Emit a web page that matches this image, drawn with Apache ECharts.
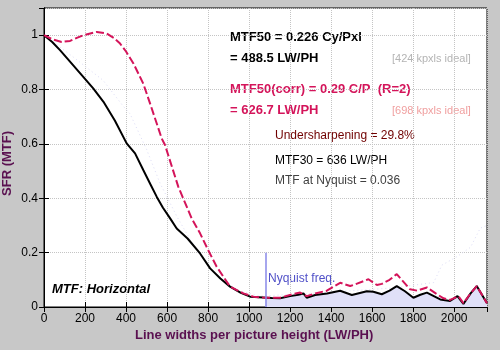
<!DOCTYPE html>
<html>
<head>
<meta charset="utf-8">
<script src="https://cdn.jsdelivr.net/npm/echarts@6/dist/echarts.min.js"></script>
<style>
  html, body { margin: 0; padding: 0; background: #c8c8c8; }
  #chart { width: 500px; height: 350px; }
</style>
</head>
<body>
<div id="chart"></div>
<script>
// measured MTF (black)
const mtfFreq = [0, 40, 78, 130, 184, 240, 290, 346, 403, 444, 484, 520, 550, 580, 615, 647, 700, 761, 810, 860, 907, 960, 1005, 1068, 1110, 1151, 1200, 1240, 1265, 1281, 1322, 1380, 1444, 1501, 1574, 1606, 1647, 1685, 1720, 1760, 1801, 1835, 1867, 1932, 1980, 2016, 2045, 2080, 2110, 2160];
const mtfVals = [1.0, 0.975, 0.945, 0.9, 0.853, 0.804, 0.755, 0.685, 0.602, 0.565, 0.504, 0.45, 0.405, 0.365, 0.326, 0.289, 0.252, 0.197, 0.142, 0.105, 0.075, 0.052, 0.038, 0.035, 0.033, 0.032, 0.04, 0.045, 0.05, 0.034, 0.044, 0.05, 0.06, 0.044, 0.058, 0.056, 0.047, 0.06, 0.077, 0.058, 0.034, 0.045, 0.053, 0.028, 0.022, 0.04, 0.011, 0.05, 0.077, 0.014];

// corrected MTF (red dashed)
const corrFreq = [0, 40, 86, 127, 160, 192, 257, 306, 340, 371, 400, 436, 484, 517, 574, 590, 655, 720, 761, 800, 842, 907, 972, 1021, 1068, 1110, 1151, 1216, 1249, 1281, 1322, 1379, 1444, 1493, 1509, 1582, 1623, 1647, 1685, 1720, 1785, 1820, 1867, 1910, 1948, 1980, 2021, 2045, 2080, 2110, 2160];
const corrVals = [1.0, 0.985, 0.975, 0.979, 0.99, 1.0, 1.012, 1.006, 0.99, 0.969, 0.94, 0.896, 0.822, 0.749, 0.62, 0.596, 0.442, 0.326, 0.271, 0.21, 0.148, 0.075, 0.05, 0.038, 0.035, 0.034, 0.034, 0.048, 0.053, 0.04, 0.05, 0.06, 0.089, 0.077, 0.081, 0.102, 0.081, 0.085, 0.1, 0.121, 0.065, 0.06, 0.072, 0.05, 0.032, 0.026, 0.04, 0.014, 0.05, 0.077, 0.014];

// faint dotted reference curve
const refFreq = [0, 142, 288, 385, 420, 500, 566, 650, 750, 850, 950, 1050, 1300, 1500, 1700, 1900, 1940, 2013, 2080, 2127, 2160];
const refVals = [1.0, 0.92, 0.834, 0.74, 0.71, 0.58, 0.455, 0.33, 0.2, 0.11, 0.06, 0.04, 0.05, 0.06, 0.07, 0.09, 0.154, 0.185, 0.22, 0.29, 0.3];

const nyquist = 1080;
const xTicks = [0, 200, 400, 600, 800, 1000, 1200, 1400, 1600, 1800, 2000];
const yTicks = [0, 0.2, 0.4, 0.6, 0.8, 1];

const pair = (xs, ys) => xs.map((x, i) => [x, ys[i]]);
const mtfData = pair(mtfFreq, mtfVals);
const fillData = mtfData.filter(d => d[0] >= nyquist);
fillData.unshift([nyquist, 0.036]);

const FONT = 'Liberation Sans';
const gridLine = { show: true, lineStyle: { color: '#c4c4c4', type: 'dotted', width: 1 } };

const chart = echarts.init(document.getElementById('chart'), null, { renderer: 'canvas' });

const txt = (x, y, text, color, extra) => ({
  type: 'text', left: x, top: y,
  style: Object.assign({ text: text, fill: color, font: '12px ' + FONT }, extra || {})
});

chart.setOption({
  backgroundColor: '#c8c8c8',
  animation: false,
  grid: { left: 44, right: 13, top: 8, bottom: 43, show: true, backgroundColor: '#fff', borderColor: '#000', borderWidth: 1 },
  xAxis: [{
    type: 'value', min: 0, max: 2160, interval: 200,
    axisLine: { show: true, lineStyle: { color: '#000' } },
    axisTick: { show: true, inside: true, length: 5, lineStyle: { color: '#000' } },
    axisLabel: { color: '#000', fontFamily: FONT, fontSize: 12, margin: 6, showMaxLabel: false,
      formatter: v => xTicks.includes(v) ? String(v) : '' },
    splitLine: gridLine
  }, {
    type: 'value', min: 0, max: 2160, interval: 200, position: 'top',
    axisLine: { show: true, lineStyle: { color: '#000' } },
    axisTick: { show: true, inside: true, length: 5, lineStyle: { color: '#000' } },
    axisLabel: { show: false }, splitLine: { show: false }
  }],
  yAxis: [{
    type: 'value', min: 0, max: 1.1, interval: 0.2,
    axisLine: { show: true, lineStyle: { color: '#000' } },
    axisTick: { show: true, inside: true, length: 5, lineStyle: { color: '#000' } },
    axisLabel: { color: '#000', fontFamily: FONT, fontSize: 12, margin: 6, showMaxLabel: false,
      formatter: v => yTicks.some(t => Math.abs(t - v) < 1e-6) ? String(+v.toFixed(1)) : '' },
    splitLine: gridLine
  }, {
    type: 'value', min: 0, max: 1.1, interval: 0.2, position: 'right',
    axisLine: { show: true, lineStyle: { color: '#000' } },
    axisTick: { show: true, inside: true, length: 5, lineStyle: { color: '#000' } },
    axisLabel: { show: false }, splitLine: { show: false }
  }],
  series: [
    {
      type: 'line', data: fillData, symbol: 'none', z: 1,
      lineStyle: { width: 0 }, areaStyle: { color: '#e0e0f8', opacity: 1 },
      markLine: {
        silent: true, symbol: 'none', label: { show: false },
        lineStyle: { color: '#8888e8', type: 'solid', width: 1.5 },
        data: [[{ coord: [nyquist, 0] }, { coord: [nyquist, 0.2] }]]
      }
    },
    {
      type: 'line', data: pair(refFreq, refVals), symbol: 'none', z: 2,
      lineStyle: { color: '#dcdcf6', width: 1, type: [1, 3] }
    },
    {
      type: 'line', data: mtfData, symbol: 'none', z: 3,
      lineStyle: { color: '#000', width: 2 }
    },
    {
      type: 'line', data: pair(corrFreq, corrVals), symbol: 'none', z: 4,
      lineStyle: { color: '#d4145a', width: 2, type: [8, 3] }
    }
  ],
  graphic: [
    txt(230, 31, 'MTF50 = 0.226 Cy/Pxl', '#000', { font: 'bold 13px ' + FONT }),
    txt(230, 52, '= 488.5 LW/PH', '#000', { font: 'bold 13px ' + FONT }),
    txt(392, 53, '[424 kpxls ideal]', '#b4b4b4', { font: '11px ' + FONT }),
    txt(230, 83, 'MTF50(corr) = 0.29 C/P  (R=2)', '#d4145a', { font: 'bold 13px ' + FONT }),
    txt(230, 104, '= 626.7 LW/PH', '#d4145a', { font: 'bold 13px ' + FONT }),
    txt(392, 105, '[698 kpxls ideal]', '#f0a0a0', { font: '11px ' + FONT }),
    txt(275, 130, 'Undersharpening = 29.8%', '#700000'),
    txt(275, 155, 'MTF30 = 636 LW/PH', '#000'),
    txt(275, 175, 'MTF at Nyquist = 0.036', '#404040'),
    txt(268, 273, 'Nyquist freq.', '#5050c8'),
    txt(52, 283, 'MTF: Horizontal', '#000', { font: 'italic bold 13px ' + FONT }),
    txt(135, 329, 'Line widths per picture height (LW/PH)', '#5a1050', { font: 'bold 13px ' + FONT }),
    {
      type: 'text', left: 1, top: 131, rotation: Math.PI / 2,
      style: { text: 'SFR (MTF)', fill: '#5a1050', font: 'bold 13px ' + FONT }
    }
  ]
});
</script>
</body>
</html>
